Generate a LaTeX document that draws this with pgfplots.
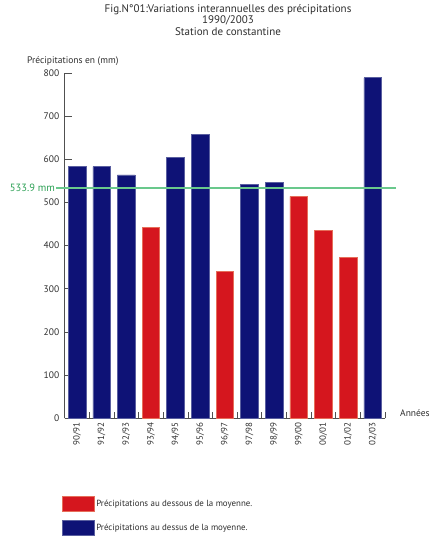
\documentclass[border=0pt]{standalone}
\usepackage{pgfplots}
\pgfplotsset{compat=1.18}
\usepackage{fontspec}
\setmainfont{PT Sans}
\definecolor{navybar}{RGB}{14,18,118}
\definecolor{navyedge}{RGB}{90,95,160}
\definecolor{redbar}{RGB}{213,22,30}
\definecolor{rededge}{RGB}{230,110,90}
\definecolor{avgline}{RGB}{105,200,140}
\definecolor{meantext}{RGB}{45,160,85}
\definecolor{axisgrey}{RGB}{80,80,80}
\definecolor{txt}{RGB}{45,45,45}
\begin{document}
\begin{tikzpicture}
\useasboundingbox (0,0) rectangle (446bp,-539bp);
\node[text=txt, align=center, font=\fontsize{11bp}{11.7bp}\selectfont] at (228bp,-20bp)
  {Fig.N°01:Variations interannuelles des précipitations\\1990/2003\\Station de constantine};
\node[text=txt, anchor=west, inner sep=0pt, font=\fontsize{9.5bp}{10bp}\selectfont] at (27bp,-61bp) {Précipitations en (mm)};
\begin{axis}[
  at={(64.7bp,-418.3bp)}, anchor=south west,
  width=320.3bp, height=345.3bp, scale only axis,
  xmin=0, xmax=13, ymin=0, ymax=800,
  axis x line=bottom, axis y line=left,
  axis line style={-, draw=axisgrey, line width=0.7bp},
  clip=false,
  ytick={0,100,...,800},
  xtick={0.5,1.5,...,12.5},
  xticklabels={90/91,91/92,92/93,93/94,94/95,95/96,96/97,97/98,98/99,99/00,00/01,01/02,02/03},
  minor xtick={1,2,...,13},
  tick align=inside,
  major tick length=7bp,
  minor tick length=6bp,
  major x tick style={draw=none},
  minor x tick style={draw=axisgrey, line width=0.7bp},
  ytick style={draw=axisgrey, line width=0.7bp},
  tick label style={text=txt, font=\fontsize{9.5bp}{10bp}\selectfont},
  /pgf/number format/assume math mode=true,
  yticklabel style={xshift=-2bp},
  xticklabel style={rotate=90, anchor=east, xshift=-1bp, font=\fontsize{9bp}{10bp}\selectfont},
  legend style={at={(-0.0084,-0.225)}, anchor=north west, draw=none, fill=none,
    row sep=8bp, inner sep=0pt, font=\fontsize{8.9bp}{10bp}\selectfont,
    nodes={inner sep=1.5bp, text=txt}},
  legend cell align=left,
  legend image code/.code={\draw[#1] (0bp,-7.5bp) rectangle (32bp,7.5bp);},
]
\addplot[ybar, bar width=17.7bp, bar shift=0pt, fill=redbar, draw=rededge, line width=0.6bp]
  coordinates {(3.5,443) (6.5,341) (9.5,514) (10.5,436) (11.5,372)};
\addlegendentry{Précipitations au dessous de la moyenne.}
\addplot[ybar, bar width=17.7bp, bar shift=0pt, fill=navybar, draw=navyedge, line width=0.6bp]
  coordinates {(0.5,583) (1.5,583) (2.5,564) (4.5,604) (5.5,658) (7.5,542) (8.5,546) (12.5,789)};
\addlegendentry{Précipitations au dessus de la moyenne.}
\addplot[draw=avgline, line width=1.4bp, forget plot, mark=none]
  coordinates {(-0.35,533.9) (13.45,533.9)};
\node[anchor=east, text=meantext, inner sep=1bp, font=\fontsize{10.5bp}{11bp}\selectfont] at (axis cs:-0.35,533.9) {533.9 mm};
\node[anchor=west, text=txt, inner sep=0pt, font=\fontsize{9.5bp}{10bp}\selectfont] at (axis cs:13,0) [xshift=15bp, yshift=5bp] {Années};
\end{axis}
\end{tikzpicture}
\end{document}
